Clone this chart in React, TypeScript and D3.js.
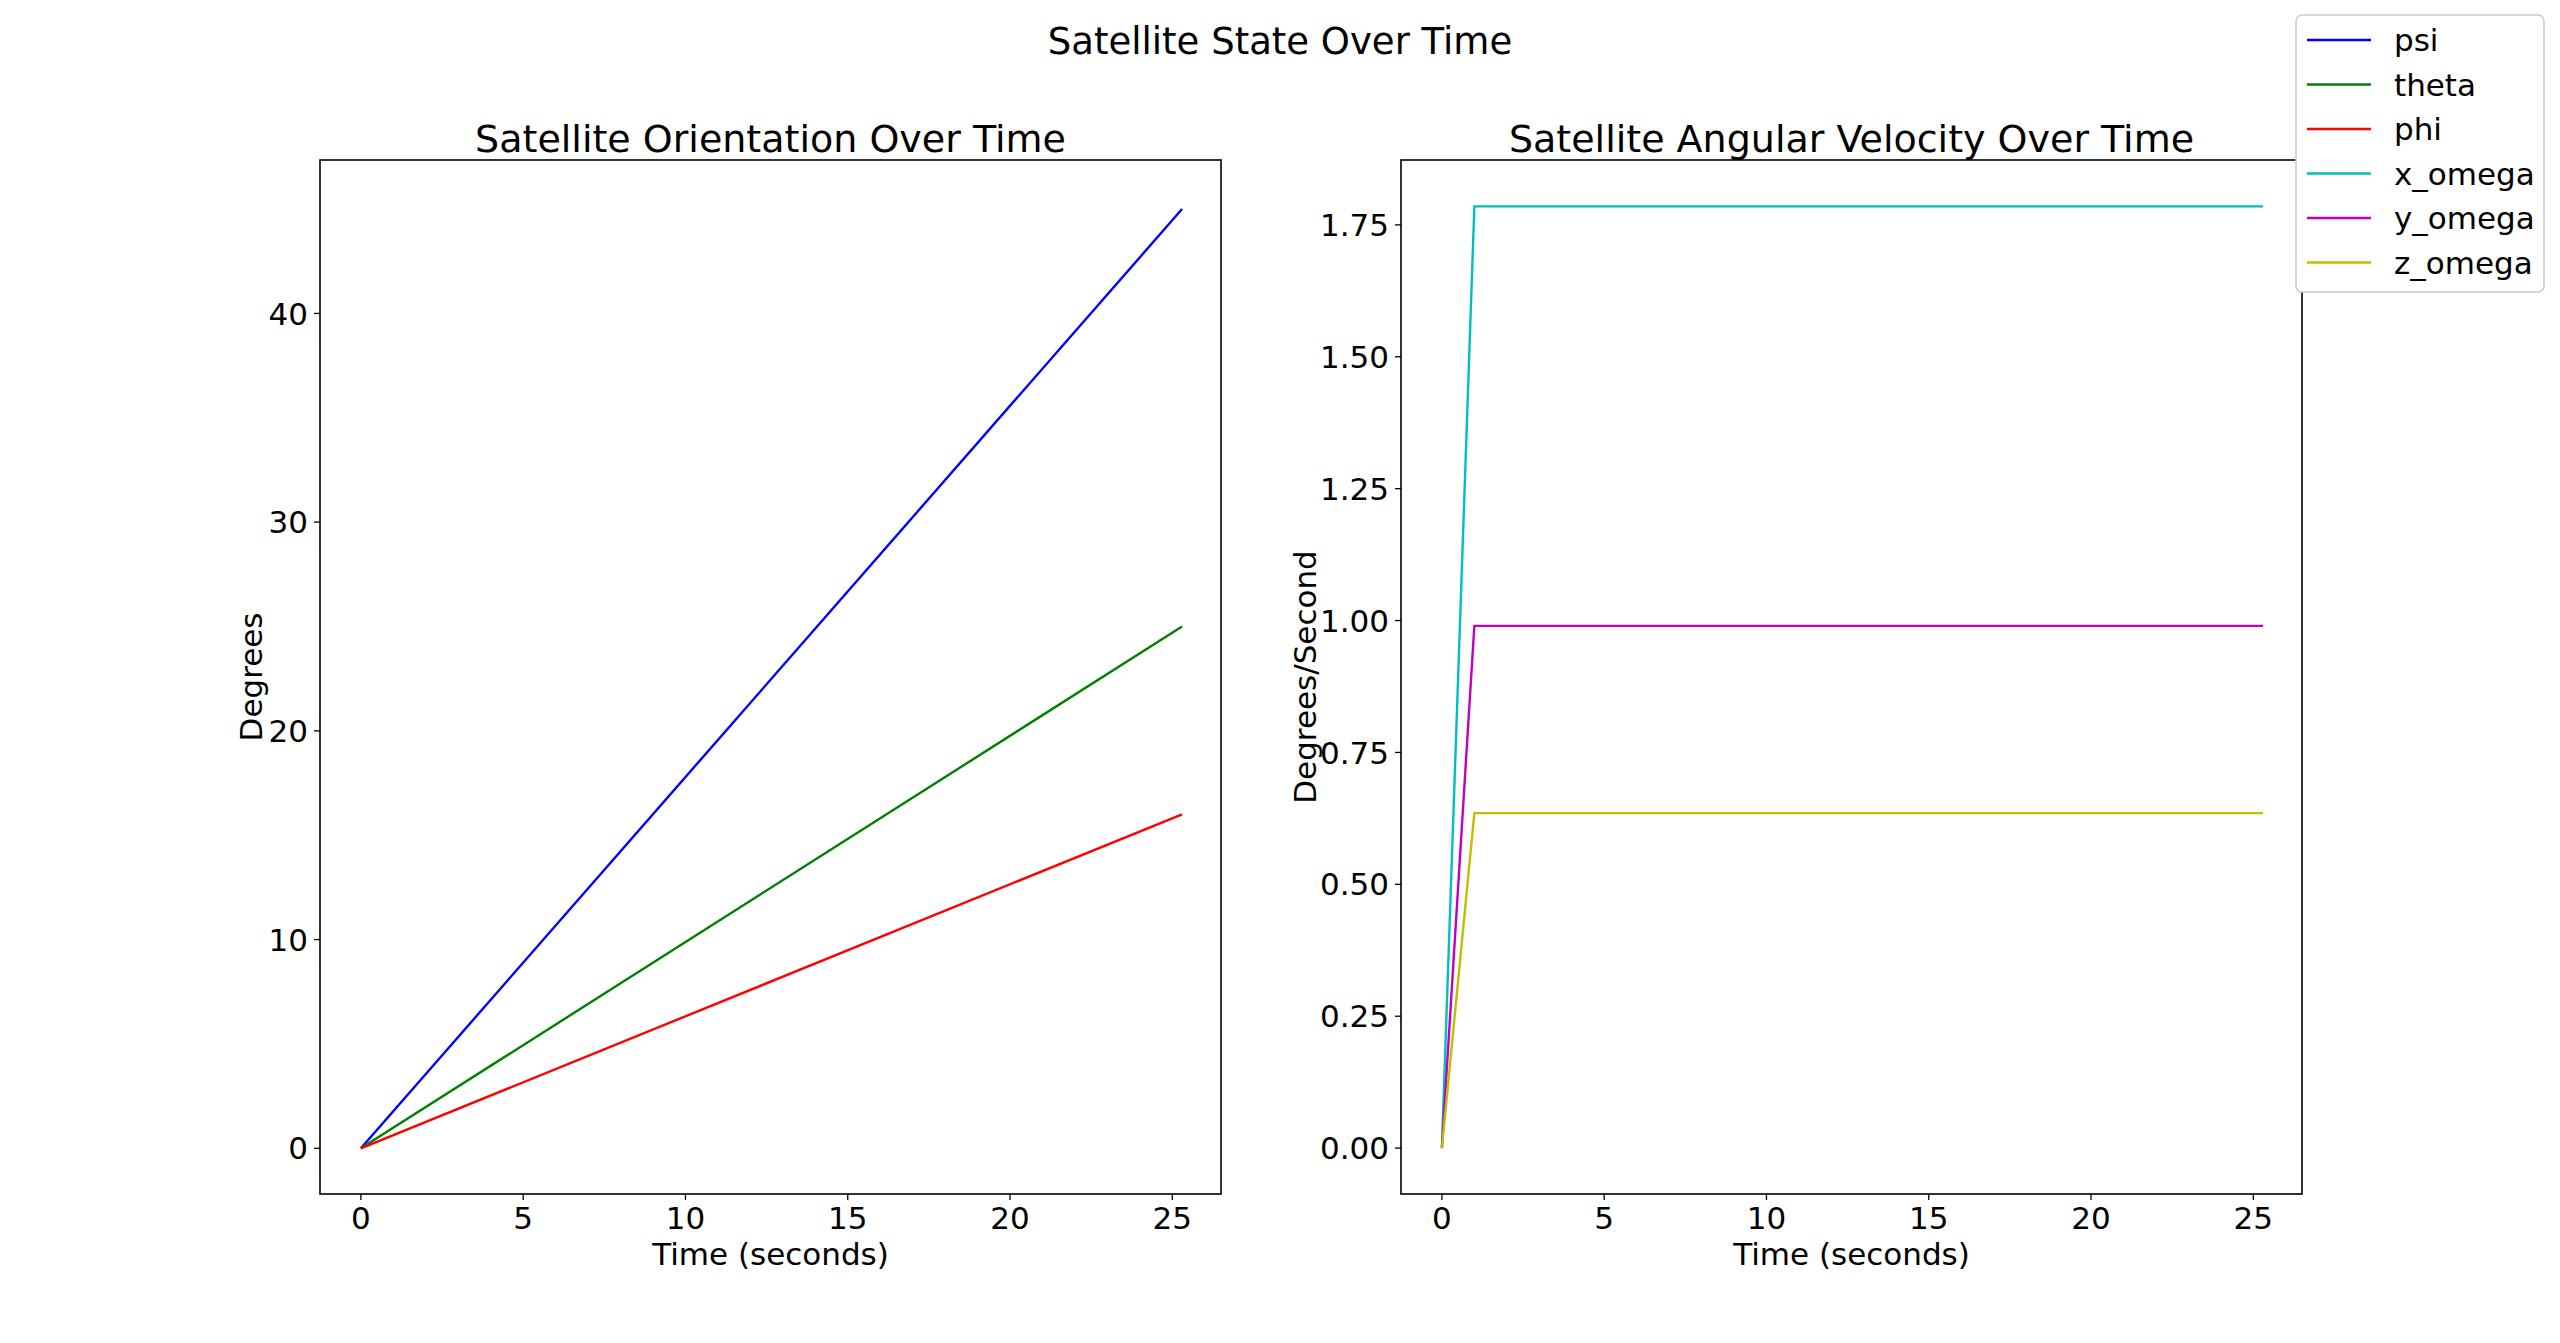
import React from "react";
import * as d3 from "d3";

const W = 2560, H = 1343;
const timeOri = [0, 25.3];
const psi = [0, 45];
const theta = [0, 25];
const phi = [0, 16];
const timeVel = [0, 1, 25.3];
const xOmega = [0, 1.785, 1.785];
const yOmega = [0, 0.99, 0.99];
const zOmega = [0, 0.635, 0.635];
const xTicks = [0, 5, 10, 15, 20, 25];
const oriTicks = [0, 10, 20, 30, 40];
const velTicks = [0, 0.25, 0.5, 0.75, 1.0, 1.25, 1.5, 1.75];
const legendNames = ["psi", "theta", "phi", "x_omega", "y_omega", "z_omega"];
const legendColors = ["#0000ff", "#008000", "#ff0000", "#00bfbf", "#bf00bf", "#bfbf00"];

const FONT = "DejaVu Sans";
const TOP = 160, BOT = 1194;

function Panel({ x0, x1, yDomain, ticks, fmt, title, ylabel, ylabelX, series, t }: any) {
  const xs = d3.scaleLinear().domain([-1.26, 26.5]).range([x0, x1]);
  const ys = d3.scaleLinear().domain(yDomain).range([BOT, TOP]);
  const line = d3.line<number>().x((_, i) => xs(t[i])).y((d) => ys(d));
  return (
    <g fontFamily={FONT}>
      {series.map((s: any, i: number) => (
        <path key={i} d={line(s.v) || ""} fill="none" stroke={s.c} strokeWidth={2.4} />
      ))}
      <rect x={x0} y={TOP} width={x1 - x0} height={BOT - TOP} fill="none" stroke="#000" strokeWidth={1.6} />
      {xTicks.map((v) => (
        <g key={v}>
          <line x1={xs(v)} x2={xs(v)} y1={BOT} y2={BOT + 6} stroke="#000" strokeWidth={1.3} />
          <text x={xs(v)} y={BOT + 35} textAnchor="middle" fontSize={31}>{v}</text>
        </g>
      ))}
      {ticks.map((v: number) => (
        <g key={v}>
          <line x1={x0 - 6} x2={x0} y1={ys(v)} y2={ys(v)} stroke="#000" strokeWidth={1.3} />
          <text x={x0 - 12} y={ys(v)} dy="0.36em" textAnchor="end" fontSize={31}>{fmt(v)}</text>
        </g>
      ))}
      <text x={(x0 + x1) / 2} y={1265} textAnchor="middle" fontSize={31}>Time (seconds)</text>
      <text transform={`translate(${ylabelX},${(TOP + BOT) / 2}) rotate(-90)`} textAnchor="middle" fontSize={31}>{ylabel}</text>
      <text x={(x0 + x1) / 2} y={152} textAnchor="middle" fontSize={38}>{title}</text>
    </g>
  );
}

export default function App() {
  return (
    <svg width={W} height={H} style={{ position: "absolute", left: 0, top: 0, background: "#fff" }}>
      <rect width={W} height={H} fill="#fff" />
      <text x={1280} y={54} textAnchor="middle" fontSize={37} fontFamily={FONT}>Satellite State Over Time</text>
      <Panel x0={320} x1={1221} yDomain={[-2.19, 47.35]} ticks={oriTicks} fmt={(v: number) => String(v)}
        title="Satellite Orientation Over Time" ylabel="Degrees" ylabelX={262} t={timeOri}
        series={[{ v: psi, c: legendColors[0] }, { v: theta, c: legendColors[1] }, { v: phi, c: legendColors[2] }]} />
      <Panel x0={1401} x1={2302} yDomain={[-0.087, 1.873]} ticks={velTicks} fmt={(v: number) => v.toFixed(2)}
        title="Satellite Angular Velocity Over Time" ylabel="Degrees/Second" ylabelX={1316} t={timeVel}
        series={[{ v: xOmega, c: legendColors[3] }, { v: yOmega, c: legendColors[4] }, { v: zOmega, c: legendColors[5] }]} />
      <g fontFamily={FONT}>
        <rect x={2296} y={15} width={248} height={277} rx={6} fill="#fff" stroke="#ccc" strokeWidth={1.6} />
        {legendNames.map((n, i) => (
          <g key={n}>
            <line x1={2307} x2={2371} y1={40 + i * 44.5} y2={40 + i * 44.5} stroke={legendColors[i]} strokeWidth={2.4} />
            <text x={2394} y={40 + i * 44.5} dy="0.36em" fontSize={31}>{n}</text>
          </g>
        ))}
      </g>
    </svg>
  );
}
